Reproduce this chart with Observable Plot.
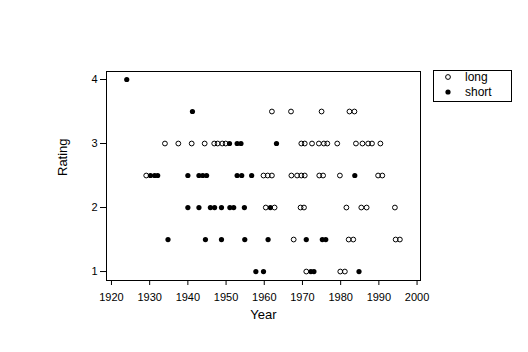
<!DOCTYPE html>
<html>
<head>
<meta charset="utf-8">
<script src="https://cdn.jsdelivr.net/npm/d3@7"></script>
<script src="https://cdn.jsdelivr.net/npm/@observablehq/plot@0.6"></script>
<style>
  html, body { margin: 0; padding: 0; background: #fff; }
  #chart { width: 528px; height: 352px; }
</style>
</head>
<body>
<div id="chart"></div>
<script>
// ---- data ----
const seriesNames = ["long", "short"];
const xTicks = [1920, 1930, 1940, 1950, 1960, 1970, 1980, 1990, 2000];
const yTicks = [1, 2, 3, 4];

const longYears = [
  1962, 1967, 1975, 1982.3, 1983.6,
  1934, 1937.5, 1941, 1944.4, 1946.9, 1947.8, 1949, 1949.9,
  1969.7, 1970.6, 1972.5, 1974.3, 1975.6, 1976.5, 1979.1,
  1984, 1985.7, 1987.2, 1988.2, 1990.4,
  1929.1, 1959.8, 1960.9, 1962, 1967.1, 1968.6, 1969.7, 1970.6, 1974.4, 1975.4, 1979.8, 1989.8, 1990.9,
  1960.4, 1962.7, 1969.5, 1970.4, 1981.5, 1985.4, 1986.8, 1994.2,
  1967.7, 1982.1, 1983.3, 1994.4, 1995.5,
  1971, 1979.9, 1981.1
];
const longRatings = [
  3.5, 3.5, 3.5, 3.5, 3.5,
  3, 3, 3, 3, 3, 3, 3, 3,
  3, 3, 3, 3, 3, 3, 3,
  3, 3, 3, 3, 3,
  2.5, 2.5, 2.5, 2.5, 2.5, 2.5, 2.5, 2.5, 2.5, 2.5, 2.5, 2.5, 2.5,
  2, 2, 2, 2, 2, 2, 2, 2,
  1.5, 1.5, 1.5, 1.5, 1.5,
  1, 1, 1
];

const shortYears = [
  1924,
  1941.2,
  1950.9, 1952.9, 1953.9, 1963.2,
  1930.2, 1931.3, 1932.1, 1940, 1942.9, 1943.9, 1944.9, 1952.9, 1954.1, 1956.7, 1983.7,
  1940, 1942.9, 1945.9, 1947, 1948.8, 1951, 1952, 1954.8, 1961.6,
  1934.8, 1944.6, 1948.8, 1954.9, 1961, 1971, 1975.2, 1976.1,
  1957.8, 1959.8, 1972.2, 1973, 1984.8
];
const shortRatings = [
  4,
  3.5,
  3, 3, 3, 3,
  2.5, 2.5, 2.5, 2.5, 2.5, 2.5, 2.5, 2.5, 2.5, 2.5, 2.5,
  2, 2, 2, 2, 2, 2, 2, 2, 2,
  1.5, 1.5, 1.5, 1.5, 1.5, 1.5, 1.5, 1.5,
  1, 1, 1, 1, 1
];

const longData = longYears.map((x, i) => ({year: x, rating: longRatings[i], type: seriesNames[0]}));
const shortData = shortYears.map((x, i) => ({year: x, rating: shortRatings[i], type: seriesNames[1]}));

const font = "Arial, 'Liberation Sans', Helvetica, sans-serif";

const svg = Plot.plot({
  width: 528,
  height: 352,
  marginLeft: 106,
  marginRight: 108,
  marginTop: 71,
  marginBottom: 72,
  style: {fontFamily: font, fontSize: "11px", color: "black", background: "white", overflow: "visible"},
  x: {domain: [1918.7, 2000.9]},
  y: {domain: [0.86, 4.125]},
  marks: [
    Plot.axisX({ticks: xTicks, tickSize: 5, tickPadding: 8, tickFormat: d => String(d), label: null, fontSize: 11}),
    Plot.axisY({ticks: yTicks, tickSize: 6, tickPadding: 3, tickFormat: d => String(d), label: null, fontSize: 11}),
    Plot.text(["Year"], {frameAnchor: "bottom", dy: 38, lineAnchor: "bottom", fontSize: 13}),
    Plot.text(["Rating"], {frameAnchor: "left", dx: -44, rotate: -90, fontSize: 13}),
    Plot.dot(longData, {x: "year", y: "rating", r: 2.4, stroke: "black", strokeWidth: 1, fill: "none"}),
    Plot.dot(shortData, {x: "year", y: "rating", r: 2.6, fill: "black", stroke: "none"}),
    Plot.frame({stroke: "black", strokeWidth: 1})
  ]
});

// legend drawn into the same SVG, to the right of the panel
const g = d3.select(svg).append("g")
  .attr("font-family", font).attr("font-size", 12).attr("text-anchor", "start");
g.append("rect").attr("x", 433.5).attr("y", 70.5).attr("width", 78).attr("height", 31)
  .attr("fill", "white").attr("stroke", "black");
const rows = [{name: seriesNames[0], filled: false, y: 77}, {name: seriesNames[1], filled: true, y: 92}];
rows.forEach(r => {
  g.append("circle").attr("cx", 448).attr("cy", r.y).attr("r", r.filled ? 2.6 : 2.4)
    .attr("fill", r.filled ? "black" : "none").attr("stroke", r.filled ? "none" : "black");
  g.append("text").attr("x", 465).attr("y", r.y).attr("dy", "0.35em")
    .attr("text-anchor", "start").text(r.name);
});

document.getElementById("chart").appendChild(svg);
</script>
</body>
</html>
